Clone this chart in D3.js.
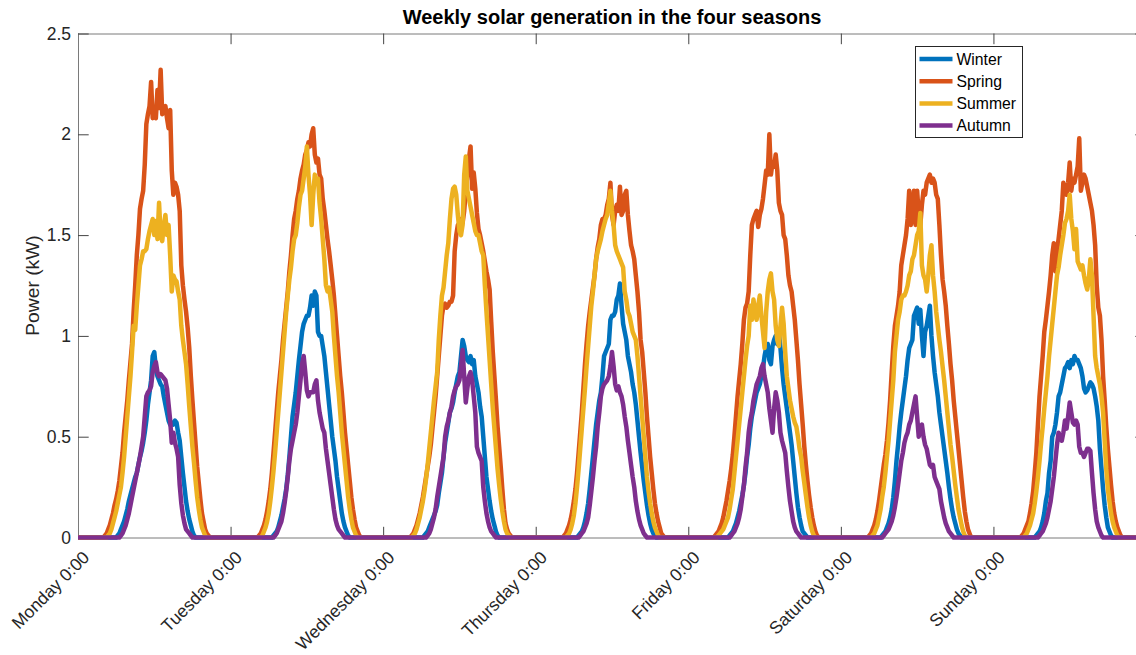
<!DOCTYPE html>
<html>
<head>
<meta charset="utf-8">
<script src="https://cdn.jsdelivr.net/npm/d3@7"></script>
<style>
  body { margin: 0; background: #fff; }
  svg { display: block; font-family: "Liberation Sans", Arial, Helvetica, sans-serif; }
</style>
</head>
<body>
<script>
// ---- data -------------------------------------------------------------
// Power in kW, one value every 15 minutes. Each day is written as four rows
// of 24 samples (00:00-05:45, 06:00-11:45, 12:00-17:45, 18:00-23:45).
const dayLabels = ["Monday 0:00", "Tuesday 0:00", "Wednesday 0:00", "Thursday 0:00",
                   "Friday 0:00", "Saturday 0:00", "Sunday 0:00"];
const dayTicks = [0, 24, 48, 72, 96, 120, 144];   // hours since Monday 0:00
const yTicks = [0, 0.5, 1, 1.5, 2, 2.5];
const seasonNames = ["Winter", "Spring", "Summer", "Autumn"];

const winter = [
  [0,0,0,0,0,0,0,0, 0,0,0,0,0,0,0,0, 0,0,0,0,0,0,0,0,
   0,.01,.02,.04,.06,.08,.11,.14, .18,.21,.24,.27,.30,.32,.36,.40, .43,.47,.52,.58,.66,.72,.78,.90,
   .92,.84,.80,.78,.76,.75,.70,.66, .62,.58,.56,.57,.56,.58,.57,.52, .48,.40,.32,.25,.18,.13,.09,.06,
   .03,.01,0,0,0,0,0,0, 0,0,0,0,0,0,0,0, 0,0,0,0,0,0,0,0],
  [0,0,0,0,0,0,0,0, 0,0,0,0,0,0,0,0, 0,0,0,0,0,0,0,0,
   0,0,0,.01,.02,.03,.05,.08, .11,.15,.19,.24,.31,.40,.50,.60, .66,.72,.80,.88,.95,1.02,1.06,1.08,
   1.10,1.10,1.14,1.20,1.15,1.22,1.20,1.02, 1.00,1.00,.95,.90,.82,.74,.66,.58, .50,.44,.38,.30,.24,.18,.12,.08,
   .05,.03,.01,0,0,0,0,0, 0,0,0,0,0,0,0,0, 0,0,0,0,0,0,0,0],
  [0,0,0,0,0,0,0,0, 0,0,0,0,0,0,0,0, 0,0,0,0,0,0,0,0,
   0,0,.01,.02,.03,.05,.07,.09, .11,.13,.16,.22,.27,.32,.40,.47, .52,.57,.62,.64,.67,.72,.76,.80,
   .82,.90,.98,.95,.90,.88,.87,.90, .86,.88,.80,.76,.72,.65,.60,.50, .40,.30,.24,.18,.13,.09,.06,.03,
   .01,0,0,0,0,0,0,0, 0,0,0,0,0,0,0,0, 0,0,0,0,0,0,0,0],
  [0,0,0,0,0,0,0,0, 0,0,0,0,0,0,0,0, 0,0,0,0,0,0,0,0,
   0,0,0,.01,.02,.03,.05,.08, .12,.17,.24,.32,.40,.48,.56,.62, .68,.72,.80,.90,.92,.94,.96,1.08,
   1.10,1.10,1.12,1.18,1.20,1.26,1.15,1.06, 1.02,.98,.90,.86,.82,.76,.72,.66, .58,.50,.42,.35,.28,.22,.16,.11,
   .07,.04,.02,.01,0,0,0,0, 0,0,0,0,0,0,0,0, 0,0,0,0,0,0,0,0],
  [0,0,0,0,0,0,0,0, 0,0,0,0,0,0,0,0, 0,0,0,0,0,0,0,0,
   0,0,.01,.02,.03,.05,.07,.10, .13,.17,.21,.26,.32,.40,.46,.54, .60,.64,.68,.72,.74,.76,.80,.84,
   .90,.94,.96,.88,.86,.95,.98,1.00, .96,1.02,.94,.84,.76,.70,.64,.58, .52,.46,.38,.30,.22,.15,.10,.06,
   .03,.02,.01,0,0,0,0,0, 0,0,0,0,0,0,0,0, 0,0,0,0,0,0,0,0],
  [0,0,0,0,0,0,0,0, 0,0,0,0,0,0,0,0, 0,0,0,0,0,0,0,0,
   0,0,.01,.02,.03,.05,.07,.10, .14,.20,.28,.38,.46,.55,.62,.68, .74,.80,.88,.94,.96,.98,1.10,1.12,
   1.14,1.06,1.13,1.00,.90,1.02,1.05,1.10, 1.15,1.00,.90,.82,.76,.70,.62,.56, .50,.44,.38,.32,.25,.19,.14,.10,
   .07,.04,.02,.01,0,0,0,0, 0,0,0,0,0,0,0,0, 0,0,0,0,0,0,0,0],
  [0,0,0,0,0,0,0,0, 0,0,0,0,0,0,0,0, 0,0,0,0,0,0,0,0,
   0,0,0,.01,.02,.03,.05,.08, .12,.18,.22,.32,.38,.50,.52,.56, .62,.70,.72,.76,.80,.84,.85,.87,
   .84,.88,.86,.90,.88,.88,.86,.84, .80,.74,.72,.73,.75,.77,.76,.74, .70,.65,.58,.44,.34,.24,.16,.10,
   .05,.03,.01,0,0,0,0,0, 0,0,0,0,0,0,0,0, 0,0,0,0,0,0,0,0]
];

const spring = [
  [0,0,0,0,0,0,0,0, 0,0,0,0,0,0,0,0, 0,.01,.02,.04,.06,.09,.12,.16,
   .19,.23,.28,.35,.42,.52,.60,.68, .78,.87,.96,1.12,1.25,1.40,1.50,1.63, 1.68,1.72,1.85,2.05,2.10,2.14,2.26,2.08,
   2.12,2.08,2.22,2.13,2.32,2.10,2.12,2.14, 2.08,2.03,2.12,1.82,1.70,1.76,1.74,1.70, 1.62,1.35,1.25,1.18,1.12,1.04,.94,.80,
   .68,.57,.46,.35,.27,.19,.12,.08, .04,.02,.01,0,0,0,0,0, 0,0,0,0,0,0,0,0],
  [0,0,0,0,0,0,0,0, 0,0,0,0,0,0,0,0, 0,0,.01,.02,.04,.06,.09,.13,
   .18,.24,.32,.42,.52,.62,.72,.80, .88,.98,1.06,1.14,1.22,1.32,1.40,1.50, 1.58,1.62,1.68,1.72,1.78,1.82,1.85,1.90,
   1.92,1.96,1.94,2.00,2.03,1.90,1.86,1.88, 1.80,1.78,1.68,1.62,1.55,1.48,1.42,1.35, 1.28,1.20,1.10,1.00,.90,.80,.72,.62,
   .52,.44,.36,.28,.20,.14,.09,.05, .03,.01,0,0,0,0,0,0, 0,0,0,0,0,0,0,0],
  [0,0,0,0,0,0,0,0, 0,0,0,0,0,0,0,0, 0,0,.01,.02,.04,.06,.09,.12,
   .16,.20,.25,.30,.35,.40,.46,.54, .62,.70,.80,.90,1.00,1.10,1.15,1.16, 1.14,1.15,1.17,1.17,1.20,1.42,1.50,1.55,
   1.56,1.58,1.56,1.62,1.72,1.80,1.88,1.94, 1.73,1.81,1.73,1.61,1.53,1.50,1.46,1.42, 1.37,1.32,1.28,1.23,1.07,.92,.80,.68,
   .55,.45,.35,.24,.14,.07,.04,.02, .01,0,0,0,0,0,0,0, 0,0,0,0,0,0,0,0],
  [0,0,0,0,0,0,0,0, 0,0,0,0,0,0,0,0, 0,0,.01,.02,.04,.06,.09,.13,
   .18,.24,.32,.42,.52,.62,.74,.86, .96,1.05,1.12,1.18,1.24,1.30,1.38,1.44, 1.48,1.55,1.58,1.58,1.60,1.65,1.68,1.76,
   1.60,1.55,1.62,1.65,1.62,1.74,1.60,1.62, 1.70,1.72,1.60,1.52,1.45,1.42,1.38,1.30, 1.22,1.12,.98,.92,.82,.72,.60,.50,
   .40,.32,.24,.17,.12,.08,.05,.02, .01,0,0,0,0,0,0,0, 0,0,0,0,0,0,0,0],
  [0,0,0,0,0,0,0,0, 0,0,0,0,0,0,0,0, 0,.01,.02,.03,.05,.07,.10,.14,
   .18,.23,.28,.34,.41,.50,.60,.70, .78,.86,.96,1.08,1.14,1.16,1.22,1.40, 1.55,1.58,1.60,1.62,1.54,1.60,1.63,1.68,
   1.75,1.82,1.80,2.00,1.80,1.86,1.84,1.90, 1.82,1.66,1.62,1.60,1.50,1.48,1.40,1.30, 1.25,1.22,1.15,1.08,.98,.88,.76,.66,
   .56,.45,.36,.28,.21,.15,.10,.06, .03,.01,0,0,0,0,0,0, 0,0,0,0,0,0,0,0],
  [0,0,0,0,0,0,0,0, 0,0,0,0,0,0,0,0, 0,0,.01,.02,.04,.06,.09,.13,
   .18,.24,.30,.36,.41,.48,.57,.68, .82,.95,1.05,1.10,1.15,1.22,1.35,1.40, 1.45,1.50,1.58,1.72,1.55,1.62,1.72,1.55,
   1.72,1.60,1.55,1.65,1.72,1.70,1.76,1.78, 1.80,1.76,1.78,1.76,1.70,1.68,1.55,1.40, 1.28,1.22,1.15,1.05,.96,.86,.78,.68,
   .60,.52,.44,.36,.28,.20,.13,.08, .04,.02,0,0,0,0,0,0, 0,0,0,0,0,0,0,0],
  [0,0,0,0,0,0,0,0, 0,0,0,0,0,0,0,0, 0,0,.01,.02,.04,.06,.08,.12,
   .17,.23,.32,.42,.56,.70,.80,.90, 1.02,1.08,1.15,1.22,1.30,1.40,1.46,1.32, 1.42,1.48,1.55,1.62,1.76,1.72,1.70,1.76,
   1.86,1.72,1.78,1.76,1.80,1.84,1.98,1.72, 1.76,1.80,1.78,1.74,1.70,1.66,1.62,1.55, 1.45,1.25,1.14,1.10,.98,.80,.68,.55,
   .44,.35,.26,.18,.12,.08,.05,.03, .01,0,0,0,0,0,0,0, 0,0,0,0,0,0,0,0]
];

const summer = [
  [0,0,0,0,0,0,0,0, 0,0,0,0,0,0,0,0, 0,0,0,.01,.02,.04,.07,.10,
   .13,.17,.21,.25,.32,.40,.50,.60, .70,.80,.92,1.05,1.03,1.15,1.25,1.35, 1.38,1.42,1.42,1.43,1.48,1.52,1.55,1.58,
   1.50,1.57,1.48,1.66,1.50,1.47,1.55,1.60, 1.50,1.55,1.40,1.22,1.30,1.28,1.27,1.22, 1.18,1.05,.98,.92,.86,.76,.65,.55,
   .45,.37,.28,.20,.14,.09,.05,.03, .01,0,0,0,0,0,0,0, 0,0,0,0,0,0,0,0],
  [0,0,0,0,0,0,0,0, 0,0,0,0,0,0,0,0, 0,0,0,0,.01,.03,.05,.08,
   .12,.18,.25,.33,.42,.52,.62,.72, .82,.92,1.02,1.12,1.20,1.28,1.34,1.42, 1.48,1.50,1.56,1.64,1.70,1.72,1.78,1.84,
   1.94,1.80,1.70,1.55,1.70,1.80,1.76,1.78, 1.66,1.58,1.48,1.38,1.25,1.22,1.24,1.18, 1.12,1.00,.90,.80,.72,.62,.52,.44,
   .36,.28,.20,.14,.09,.05,.03,.01, 0,0,0,0,0,0,0,0, 0,0,0,0,0,0,0,0],
  [0,0,0,0,0,0,0,0, 0,0,0,0,0,0,0,0, 0,0,0,.01,.02,.04,.07,.10,
   .14,.18,.23,.29,.36,.44,.52,.60, .68,.75,.82,.98,1.10,1.20,1.24,1.32, 1.40,1.46,1.58,1.68,1.73,1.74,1.70,1.60,
   1.52,1.50,1.55,1.80,1.89,1.72,1.68,1.64, 1.60,1.56,1.52,1.50,1.50,1.46,1.42,1.40, 1.25,1.12,1.00,.88,.76,.64,.54,.44,
   .34,.26,.19,.13,.08,.04,.02,.01, 0,0,0,0,0,0,0,0, 0,0,0,0,0,0,0,0],
  [0,0,0,0,0,0,0,0, 0,0,0,0,0,0,0,0, 0,0,0,0,.01,.02,.04,.07,
   .11,.17,.25,.34,.44,.54,.64,.74, .85,.95,1.05,1.15,1.22,1.30,1.38,1.42, 1.45,1.48,1.52,1.55,1.58,1.60,1.66,1.72,
   1.62,1.55,1.45,1.42,1.40,1.38,1.36,1.34, 1.22,1.18,1.12,1.10,1.06,1.02,1.00,.98, .90,.80,.70,.60,.50,.40,.30,.23,
   .17,.12,.08,.05,.03,.01,0,0, 0,0,0,0,0,0,0,0, 0,0,0,0,0,0,0,0],
  [0,0,0,0,0,0,0,0, 0,0,0,0,0,0,0,0, 0,0,0,.01,.02,.03,.04,.06,
   .08,.10,.14,.19,.24,.32,.40,.48, .56,.64,.72,.80,.88,.95,1.00,1.15, 1.08,1.18,1.12,1.08,1.15,1.20,1.10,1.02,
   .94,1.12,1.22,1.28,1.31,1.22,1.18,1.05, .98,.95,1.05,1.14,1.06,.92,.80,.74, .68,.64,.60,.57,.55,.50,.44,.40,
   .33,.27,.21,.15,.10,.06,.03,.01, 0,0,0,0,0,0,0,0, 0,0,0,0,0,0,0,0],
  [0,0,0,0,0,0,0,0, 0,0,0,0,0,0,0,0, 0,0,0,0,.01,.02,.04,.06,
   .10,.14,.20,.25,.32,.40,.48,.58, .68,.78,.92,1.00,1.08,1.12,1.18,1.20, 1.20,1.22,1.25,1.30,1.32,1.38,1.40,1.45,
   1.50,1.52,1.61,1.35,1.30,1.28,1.22,1.30, 1.40,1.45,1.30,1.22,1.12,1.05,.98,.92, .85,.78,.70,.62,.54,.46,.40,.33,
   .26,.20,.14,.10,.06,.03,.01,0, 0,0,0,0,0,0,0,0, 0,0,0,0,0,0,0,0],
  [0,0,0,0,0,0,0,0, 0,0,0,0,0,0,0,0, 0,0,0,0,.01,.02,.04,.06,
   .09,.12,.17,.23,.30,.38,.47,.55, .64,.72,.80,.90,.98,1.06,1.14,1.22, 1.30,1.34,1.40,1.45,1.50,1.56,1.58,1.62,
   1.70,1.58,1.52,1.43,1.53,1.37,1.35,1.33, 1.35,1.30,1.26,1.23,1.28,1.38,1.30,1.10, .90,.84,.80,.76,.70,.62,.48,.34,
   .24,.18,.12,.08,.05,.03,.01,0, 0,0,0,0,0,0,0,0, 0,0,0,0,0,0,0,0]
];

const autumn = [
  [0,0,0,0,0,0,0,0, 0,0,0,0,0,0,0,0, 0,0,0,0,0,0,0,0,
   0,0,0,.01,.02,.04,.06,.09, .12,.16,.20,.24,.28,.32,.36,.40, .45,.50,.60,.70,.72,.73,.75,.82,
   .85,.87,.82,.80,.81,.80,.79,.78, .74,.66,.58,.47,.52,.47,.44,.40, .26,.17,.11,.07,.04,.03,.02,.01,
   0,0,0,0,0,0,0,0, 0,0,0,0,0,0,0,0, 0,0,0,0,0,0,0,0],
  [0,0,0,0,0,0,0,0, 0,0,0,0,0,0,0,0, 0,0,0,0,0,0,0,0,
   0,0,0,0,.01,.02,.04,.06, .08,.12,.17,.23,.30,.38,.44,.48, .52,.56,.62,.70,.78,.86,.90,.82,
   .73,.70,.72,.72,.72,.76,.78,.68, .62,.58,.54,.52,.44,.38,.32,.26, .20,.14,.09,.06,.04,.03,.02,.01,
   0,0,0,0,0,0,0,0, 0,0,0,0,0,0,0,0, 0,0,0,0,0,0,0,0],
  [0,0,0,0,0,0,0,0, 0,0,0,0,0,0,0,0, 0,0,0,0,0,0,0,0,
   0,0,0,0,.01,.02,.04,.07, .10,.14,.20,.25,.30,.35,.40,.50, .55,.58,.62,.65,.70,.73,.75,.76,
   .78,.85,.93,.80,.67,.74,.80,.82, .78,.70,.62,.45,.42,.40,.38,.25, .18,.12,.08,.05,.03,.02,.01,0,
   0,0,0,0,0,0,0,0, 0,0,0,0,0,0,0,0, 0,0,0,0,0,0,0,0],
  [0,0,0,0,0,0,0,0, 0,0,0,0,0,0,0,0, 0,0,0,0,0,0,0,0,
   0,0,0,0,.01,.02,.03,.05, .07,.10,.16,.23,.30,.38,.45,.55, .62,.70,.74,.76,.77,.78,.80,.85,
   .92,.85,.76,.73,.75,.72,.70,.66, .60,.55,.48,.42,.36,.30,.25,.18, .13,.09,.06,.04,.02,.01,0,0,
   0,0,0,0,0,0,0,0, 0,0,0,0,0,0,0,0, 0,0,0,0,0,0,0,0],
  [0,0,0,0,0,0,0,0, 0,0,0,0,0,0,0,0, 0,0,0,0,0,0,0,0,
   0,0,0,.01,.02,.03,.05,.07, .10,.14,.20,.26,.35,.42,.52,.58, .62,.68,.72,.76,.78,.80,.84,.86,
   .80,.76,.72,.64,.58,.52,.64,.72, .68,.62,.52,.48,.45,.42,.33,.25, .18,.13,.08,.05,.03,.02,.01,0,
   0,0,0,0,0,0,0,0, 0,0,0,0,0,0,0,0, 0,0,0,0,0,0,0,0],
  [0,0,0,0,0,0,0,0, 0,0,0,0,0,0,0,0, 0,0,0,0,0,0,0,0,
   0,0,0,.01,.02,.03,.04,.06, .08,.11,.15,.20,.26,.32,.38,.42, .47,.50,.52,.56,.58,.62,.66,.70,
   .60,.50,.55,.56,.50,.46,.44,.40, .36,.35,.36,.30,.28,.26,.24,.18, .14,.10,.07,.05,.03,.02,.01,0,
   0,0,0,0,0,0,0,0, 0,0,0,0,0,0,0,0, 0,0,0,0,0,0,0,0],
  [0,0,0,0,0,0,0,0, 0,0,0,0,0,0,0,0, 0,0,0,0,0,0,0,0,
   0,0,0,0,0,.01,.02,.03, .05,.07,.10,.14,.18,.24,.30,.38, .46,.52,.50,.48,.52,.58,.54,.60,
   .67,.62,.57,.56,.58,.56,.45,.42, .42,.40,.42,.44,.44,.43,.32,.22, .14,.08,.05,.03,.01,0,0,0,
   0,0,0,0,0,0,0,0, 0,0,0,0,0,0,0,0, 0,0,0,0,0,0,0,0]
];

// ---- layout -----------------------------------------------------------
const W = 1136, H = 655;
const plot = { left: 78, right: 1146, top: 33.5, bottom: 537.5 };
const colors = ["#0072BD", "#D95319", "#EDB120", "#7E2F8E"];
const textColor = "#262626";
const tickLen = 10.7;
const stepHours = 0.25;

const seriesByDay = [winter, spring, summer, autumn];
seriesByDay.forEach((days, s) => days.forEach((d, k) => {
  if (d.length !== 96) throw new Error(seasonNames[s] + " day " + k + " has " + d.length + " samples");
}));
const series = seriesByDay.map(days => days.flat());

const svg = d3.select("body").append("svg")
  .attr("width", W).attr("height", H)
  .attr("viewBox", `0 0 ${W} ${H}`);

const x = d3.scaleLinear().domain([0, 168]).range([plot.left, plot.right]);
const y = d3.scaleLinear().domain([0, 2.5]).range([plot.bottom, plot.top]);

// ---- axes box with inward ticks ---------------------------------------
function styleAxis(g) {
  g.select(".domain").attr("stroke", "#7a7a7a").attr("stroke-width", 1);
  g.selectAll(".tick line").attr("stroke", "#444").attr("stroke-width", 1);
  g.selectAll("text").attr("fill", textColor).style("font-size", "17.5px");
}

const xBottom = svg.append("g")
  .attr("transform", `translate(0,${plot.bottom})`)
  .call(d3.axisBottom(x).tickValues(dayTicks).tickSizeInner(-tickLen).tickSizeOuter(0)
    .tickFormat((d, i) => dayLabels[i]))
  .call(styleAxis);
xBottom.selectAll(".tick text")
  .attr("x", 0).attr("y", 0).attr("dy", 0)
  .attr("text-anchor", "end")
  .attr("transform", "translate(12,21) rotate(-45)");

svg.append("g")
  .attr("transform", `translate(0,${plot.top})`)
  .call(d3.axisTop(x).tickValues(dayTicks).tickSizeInner(-tickLen).tickSizeOuter(0).tickFormat(""))
  .call(styleAxis);

svg.append("g")
  .attr("transform", `translate(${plot.left},0)`)
  .call(d3.axisLeft(y).tickValues(yTicks).tickSizeInner(-tickLen).tickSizeOuter(0)
    .tickPadding(7).tickFormat(d3.format("~g")))
  .call(styleAxis);

svg.append("g")
  .attr("transform", `translate(${plot.right},0)`)
  .call(d3.axisRight(y).tickValues(yTicks).tickSizeInner(-tickLen).tickSizeOuter(0).tickFormat(""))
  .call(styleAxis);

// ---- series lines -----------------------------------------------------
const line = d3.line()
  .x((d, i) => x(i * stepHours))
  .y(d => y(d));

svg.append("g").selectAll("path")
  .data(series)
  .join("path")
  .attr("d", line)
  .attr("fill", "none")
  .attr("stroke", (d, i) => colors[i])
  .attr("stroke-width", 4.5)
  .attr("stroke-linejoin", "round")
  .attr("stroke-linecap", "butt");

// ---- title and axis label ---------------------------------------------
svg.append("text")
  .attr("x", (plot.left + plot.right) / 2).attr("y", 24)
  .attr("text-anchor", "middle")
  .attr("fill", "#000")
  .style("font-size", "20px").style("font-weight", "bold")
  .text("Weekly solar generation in the four seasons");

svg.append("text")
  .attr("transform", `translate(39,${(plot.top + plot.bottom) / 2}) rotate(-90)`)
  .attr("text-anchor", "middle")
  .attr("fill", textColor)
  .style("font-size", "19.25px")
  .text("Power (kW)");

// ---- legend -----------------------------------------------------------
const legend = svg.append("g").attr("transform", "translate(915.5,46.5)");
legend.append("rect")
  .attr("width", 107).attr("height", 91)
  .attr("fill", "#fff").attr("stroke", textColor).attr("stroke-width", 1);
const item = legend.selectAll("g.item")
  .data(seasonNames)
  .join("g")
  .attr("class", "item")
  .attr("transform", (d, i) => `translate(0,${12.5 + i * 22.2})`);
item.append("line")
  .attr("x1", 4).attr("x2", 37)
  .attr("stroke", (d, i) => colors[i]).attr("stroke-width", 4.5);
item.append("text")
  .attr("x", 41).attr("dy", "0.35em")
  .attr("fill", "#000")
  .style("font-size", "15.75px")
  .text(d => d);
</script>
</body>
</html>
